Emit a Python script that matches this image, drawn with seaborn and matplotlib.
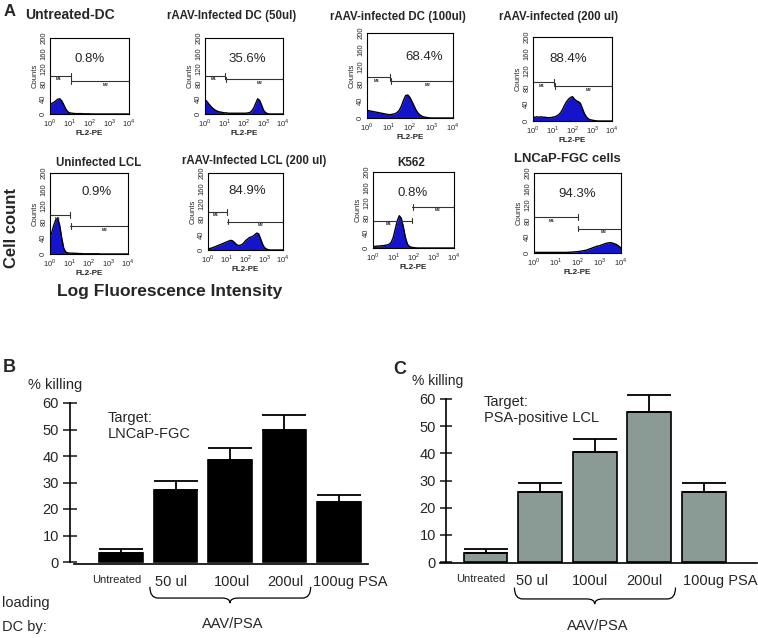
import numpy as np
import pandas as pd
import matplotlib
matplotlib.use("Agg")
import matplotlib.pyplot as plt
from matplotlib.path import Path
from matplotlib.patches import PathPatch
from matplotlib.transforms import ScaledTranslation
import seaborn as sns

sns.set_style("white")
plt.rcParams["font.family"] = ["Liberation Sans", "DejaVu Sans"]
plt.rcParams["mathtext.fontset"] = "custom"
plt.rcParams["mathtext.rm"] = "Liberation Sans"

W, H = 758, 638

# ---------------- panel A: flow cytometry histograms ----------------
# counts read off every 0.1 decade of FL2-PE, from 10^0 to 10^4
channel = np.linspace(0, 4, 41)

untreated_dc = [26, 28, 31, 35, 39, 40, 34, 24, 13, 6, 3, 2, 1.5, 1, 1, 1, 1, 0.5, 0.5, 0.5,
                0.5, 0, 0, 0, 0, 0, 0, 0, 0, 0, 0, 0, 0, 0, 0, 0, 0, 0, 0, 0, 0]
dc_50ul = [38, 33, 26, 20, 15, 11, 8, 6, 5, 4, 3, 3, 2, 2, 2, 2, 2, 2, 2, 2,
           2, 2, 3, 4, 8, 16, 28, 40, 36, 24, 10, 4, 1, 0, 0, 0, 0, 0, 0, 0, 0]
dc_100ul = [18, 17, 16, 15, 14, 13, 12, 11, 10, 9, 8, 8, 9, 10, 13, 18, 28, 42, 53, 54,
            48, 38, 27, 17, 10, 6, 3, 2, 1, 0.5, 0, 0, 0, 0, 0, 0, 0, 0, 0, 0, 0]
dc_200ul = [8, 9, 10, 9, 10, 9, 9, 8, 8, 8, 9, 10, 12, 15, 20, 28, 38, 46, 52, 56,
            58, 52, 48, 46, 42, 30, 18, 10, 5, 3, 2, 1, 0.5, 0, 0, 0, 0, 0, 0, 0, 0]
lcl_uninfected = [40, 55, 72, 85, 88, 70, 40, 15, 5, 3, 2, 2, 2, 1.5, 1.5, 1, 1, 0.5, 0.5, 0.5,
                  0.5, 0.5, 0.5, 0.5, 0.5, 0.5, 0, 0, 0, 0, 0, 0, 0, 0, 0, 0, 0, 0, 0, 0, 0]
lcl_200ul = [3, 4, 5, 7, 9, 11, 13, 15, 17, 19, 21, 23, 25, 24, 20, 15, 12, 12, 14, 18,
             24, 28, 32, 34, 36, 40, 44, 42, 30, 16, 7, 3, 1, 0, 0, 0, 0, 0, 0, 0, 0]
k562 = [4, 4, 5, 5, 6, 6, 7, 8, 10, 15, 28, 50, 72, 85, 78, 55, 28, 10, 4, 2,
        1, 0.5, 0, 0, 0, 0, 0, 0, 0, 0, 0, 0, 0, 0, 0, 0, 0, 0, 0, 0, 0]
lncap_fgc = [1.5, 1.5, 1.5, 1.5, 1.5, 1.5, 1.5, 1.5, 1.5, 1.5, 1.5, 1.5, 1.5, 1.5, 1.5, 1.5, 2, 2, 2.5, 3,
             3.5, 4, 5, 6, 7, 9, 11, 13, 15, 17, 18, 20, 22, 24, 25, 26, 25, 23, 21, 17, 12]

hist_counts = [untreated_dc, dc_50ul, dc_100ul, dc_200ul,
               lcl_uninfected, lcl_200ul, k562, lncap_fgc]
hist_titles = ["Untreated-DC", "rAAV-Infected DC (50ul)", "rAAV-infected DC (100ul)",
               "rAAV-infected (200 ul)", "Uninfected LCL", "rAAV-Infected LCL (200 ul)",
               "K562", "LNCaP-FGC cells"]
hist_percent = ["0.8%", "35.6%", "68.4%", "88.4%", "0.9%", "84.9%", "0.8%", "94.3%"]
gate_split = [1.05, 1.05, 1.07, 1.06, 1.03, 1.01, 1.95, 2.0]
gate_m1 = [100, 100, 96, 93, 96, 99, 72, 90]
gate_m2 = [86, 91, 86, 83, 69, 74, 108, 61]

# ---------------- panels B and C: % killing ----------------
groups = ["Untreated", "50 ul", "100ul", "200ul", "100ug PSA"]
kill_lncap = [3.5, 27, 38.5, 50, 22.8]
err_lncap = [1.4, 3.5, 4.5, 5.5, 2.5]
kill_lcl = [3.4, 25.6, 40.6, 55.3, 25.8]
err_lcl = [1.3, 3.3, 4.6, 6.1, 3.1]

# ---------------- layout (pixel positions) ----------------
hist_boxes = [(50, 38, 129, 114), (205, 38, 283, 114), (367, 33, 453, 118), (533, 37, 612, 121),
              (50, 173, 128, 254), (208, 173, 283, 250), (373, 172, 454, 248), (534, 173, 621, 253)]
title_xy = [(70, 15), (232, 16), (398, 17), (559, 17), (99, 163), (254, 161), (411, 163), (567, 159)]
title_size = [10, 8.3, 8.3, 8.3, 8.3, 8.3, 8.4, 9.4]
pct_pos = [(2.0, 145), (2.15, 146), (2.65, 143), (1.8, 148), (2.4, 152), (2.1, 152), (1.95, 146), (2.0, 148)]


def rect(l, t, r, b):
    return [l / W, 1 - b / H, (r - l) / W, (b - t) / H]


def ftext(x, y, s, **kw):
    fig.text(x / W, 1 - y / H, s, **kw)


fig = plt.figure(figsize=(W / 100, H / 100), dpi=100)

blue = "#1414cc"
for i, counts in enumerate(hist_counts):
    ax = fig.add_axes(rect(*hist_boxes[i]))
    x = 10 ** channel
    ax.fill_between(x, counts, color=blue, lw=0)
    sns.lineplot(x=x, y=counts, color="black", lw=1.0, ax=ax)
    ax.set_xscale("log")
    ax.set_xlim(1, 1e4)
    ax.set_ylim(0, 200)
    for sp in ax.spines.values():
        sp.set_color("black")
        sp.set_linewidth(0.8)
    ax.set_yticks([0, 40, 80, 120, 160, 200])
    ax.set_yticklabels(["0", "40", "80", "120", "160", "200"], rotation=90, va="center", fontsize=5.5)
    ax.set_xticks([1, 10, 100, 1000, 10000])
    ax.set_xticklabels([r"$10^{%d}$" % k for k in range(5)], fontsize=5.5)
    ax.tick_params(axis="both", which="major", direction="in", length=2, width=0.6, pad=2)
    ax.tick_params(axis="x", which="minor", direction="in", length=1.2, width=0.4)
    ax.set_ylabel("Counts", fontsize=5.5, labelpad=1)
    ax.set_xlabel("FL2-PE", fontsize=5.8, fontweight="bold", labelpad=1)

    # M1 / M2 gates
    s = 10 ** gate_split[i]
    gc = "#333333"
    ax.plot([1, s], [gate_m1[i]] * 2, color=gc, lw=0.8, clip_on=False)
    ax.plot([s, 1e4], [gate_m2[i]] * 2, color=gc, lw=0.8, clip_on=False)
    ax.plot([s, s], [gate_m1[i] - 7, gate_m1[i] + 7], color=gc, lw=0.8)
    ax.plot([s * 1.08, s * 1.08], [gate_m2[i] - 7, gate_m2[i] + 7], color=gc, lw=0.8)
    ax.plot([1e4 * 0.97] * 2, [gate_m2[i] - 7, gate_m2[i] + 7], color=gc, lw=0.8)
    ax.text(10 ** (gate_split[i] * 0.4), gate_m1[i] - 9, "M1", fontsize=3, fontweight="bold", ha="center", va="center")
    ax.text(10 ** (gate_split[i] + (4 - gate_split[i]) * 0.6), gate_m2[i] - 9, "M2", fontsize=3,
            fontweight="bold", ha="center", va="center")

    px, py = pct_pos[i]
    ax.text(10 ** px, py, hist_percent[i], fontsize=9.5, ha="center", va="center")

    tx, ty = title_xy[i]
    ftext(tx, ty, hist_titles[i], fontsize=title_size[i], fontweight="bold", ha="center", va="center")

ftext(10, 12, "A", fontsize=12, fontweight="bold", ha="center", va="center")
ftext(12, 228, "Cell count", fontsize=12, fontweight="bold", rotation=90, ha="center", va="center")
ftext(170, 292, "Log Fluorescence Intensity", fontsize=12.5, fontweight="bold", ha="center", va="center")


# ---------------- bar panels ----------------
def brace(ax, x0, x1, xc, y_top, y_mid, y_tip, dx=0.15):
    verts = [(x0, y_top), (x0, y_mid), (x0 + dx, y_mid), (xc - dx, y_mid), (xc, y_mid), (xc, y_tip),
             (xc, y_mid), (xc + dx, y_mid), (x1 - dx, y_mid), (x1, y_mid), (x1, y_top)]
    codes = [Path.MOVETO, Path.CURVE3, Path.CURVE3, Path.LINETO, Path.CURVE3, Path.CURVE3,
             Path.CURVE3, Path.CURVE3, Path.LINETO, Path.CURVE3, Path.CURVE3]
    ax.add_patch(PathPatch(Path(verts, codes), fill=False, lw=0.9, color="black", clip_on=False))


def kill_panel(values, errs, color, spine_px, base_px, c0, step, y0_px, y60_px, base_y, tick_len, cap,
               target, tpos, label_shift):
    left = min(spine_px, base_px[0])
    right = base_px[1]
    ax = fig.add_axes(rect(left, y60_px, right, base_y))
    df = pd.DataFrame({"group": groups, "kill": values})
    sns.barplot(data=df, x="group", y="kill", color=color, saturation=1, edgecolor="black",
                linewidth=1.2, width=0.8, errorbar=None, ax=ax)
    eb = ax.errorbar(range(len(groups)), values, yerr=[np.zeros(len(errs)), errs], fmt="none",
                     ecolor="black", elinewidth=1.3, capsize=cap, capthick=1.3, zorder=3)
    for art in eb.lines[1] + eb.lines[2]:
        art.set_clip_on(False)
    pxu = (y0_px - y60_px) / 60
    ax.set_xlim((left - c0) / step, (right - c0) / step)
    ax.set_ylim(-(base_y - y0_px) / pxu, 60)
    ax.spines["top"].set_visible(False)
    ax.spines["right"].set_visible(False)
    ax.spines["left"].set_position(("axes", (spine_px - left) / (right - left)))
    ax.spines["left"].set_bounds(0, 60)
    ax.spines["bottom"].set_bounds((base_px[0] - c0) / step, (base_px[1] - c0) / step)
    for sp in ("left", "bottom"):
        ax.spines[sp].set_color("black")
        ax.spines[sp].set_linewidth(1.2)
    ax.set_yticks(range(0, 61, 10))
    ax.tick_params(axis="y", direction="inout", length=tick_len, width=1.2, labelsize=10.5, pad=3, left=True)
    ax.tick_params(axis="x", length=0, labelsize=10.5, pad=8)
    labels = ax.get_xticklabels()
    labels[0].set_fontsize(8)
    for lab, dx in zip(labels, label_shift):
        lab.set_transform(lab.get_transform() + ScaledTranslation(dx / 100, 0, fig.dpi_scale_trans))
    ax.set_xlabel("")
    ax.set_ylabel("")
    brace(ax, 0.53, 3.48, 2.0, -9.4, -13.6, -15.5)
    ax.text(2.05, -23.5, "AAV/PSA", fontsize=10.5, ha="center", va="center", clip_on=False)
    ax.text(tpos[0], tpos[1], target, fontsize=10.5, ha="left", va="top", linespacing=1.15)
    return ax


kill_panel(kill_lncap, err_lncap, "black", 70, (74, 368), 121, 54.5, 562, 403, 564, 10, 15.8,
           "Target:\nLNCaP-FGC", (-0.24, 57.0), [-4, -4, 2, 1, 11])
kill_panel(kill_lcl, err_lcl, "#8a9b95", 446, (440, 757), 485.5, 54.6, 562, 399, 563, 8.6, 15.5,
           "Target:\nPSA-positive LCL", (-0.03, 61.5), [-5, -8, -5, -5, 16])

ftext(9, 368, "B", fontsize=13, fontweight="bold", ha="center", va="center")
ftext(55, 385, "% killing", fontsize=10.5, ha="center", va="center")
ftext(400, 370, "C", fontsize=13, fontweight="bold", ha="center", va="center")
ftext(438, 381, "% killing", fontsize=10, ha="center", va="center")
ftext(2, 603, "loading", fontsize=10.5, ha="left", va="center")
ftext(2, 627, "DC by:", fontsize=10.5, ha="left", va="center")

fig.savefig("out.png", dpi=100)
